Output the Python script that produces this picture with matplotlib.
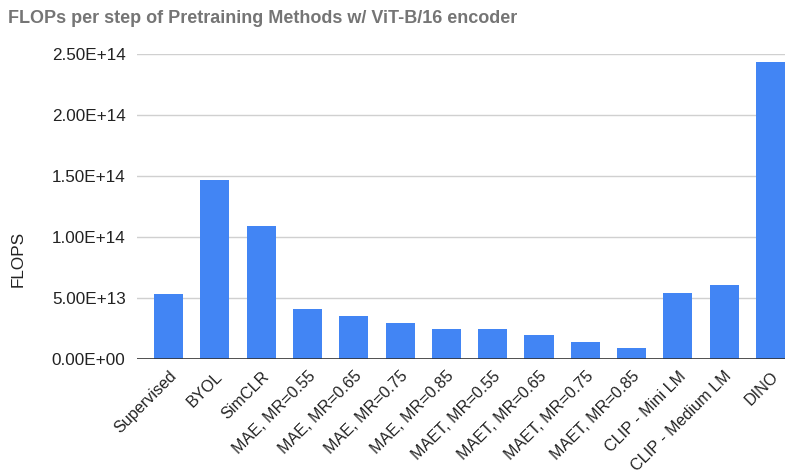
import matplotlib
matplotlib.use("Agg")
import matplotlib.pyplot as plt
from matplotlib.ticker import FuncFormatter, MultipleLocator

plt.rcParams["font.family"] = ["Liberation Sans", "DejaVu Sans"]

methods = [
    "Supervised", "BYOL", "SimCLR",
    "MAE, MR=0.55", "MAE, MR=0.65", "MAE, MR=0.75", "MAE, MR=0.85",
    "MAET, MR=0.55", "MAET, MR=0.65", "MAET, MR=0.75", "MAET, MR=0.85",
    "CLIP - Mini LM", "CLIP - Medium LM", "DINO",
]
flops = [
    5.33e13, 1.467e14, 1.085e14,
    4.07e13, 3.50e13, 2.93e13, 2.43e13,
    2.43e13, 1.97e13, 1.39e13, 0.93e13,
    5.43e13, 6.04e13, 2.434e14,
]

fig = plt.figure(figsize=(7.9, 4.76), dpi=100)
ax = fig.add_axes([0.173, 0.246, 0.821, 0.641])

x = range(len(methods))
ax.bar(x, flops, width=0.63, color="#4285F4", zorder=3)

ax.set_xlim(-0.69, 13.32)
ax.set_ylim(0, 2.5e14)
ax.yaxis.set_major_locator(MultipleLocator(0.5e14))
ax.yaxis.set_major_formatter(FuncFormatter(lambda v, _: f"{v:.2E}"))
ax.grid(axis="y", color="#d0d0d0", linewidth=1, zorder=0)
ax.axhline(0, color="#333333", linewidth=1.2, zorder=4)

for s in ax.spines.values():
    s.set_visible(False)
ax.tick_params(axis="both", length=0, colors="#222222")
ax.tick_params(axis="y", pad=8, labelsize=12.3)
ax.set_xticks(list(x))
ax.set_xticklabels(methods, rotation=45, ha="right", rotation_mode="anchor",
                   fontsize=11.6)
ax.tick_params(axis="x", pad=7)

fig.text(0.023, 0.456, "FLOPS", rotation=90, fontsize=12.3, color="#222222",
         ha="center", va="center")
fig.text(0.01, 0.962, "FLOPs per step of Pretraining Methods w/ ViT-B/16 encoder",
         fontsize=13, fontweight="bold", color="#757575", va="center")

fig.savefig("out.png", dpi=100)
